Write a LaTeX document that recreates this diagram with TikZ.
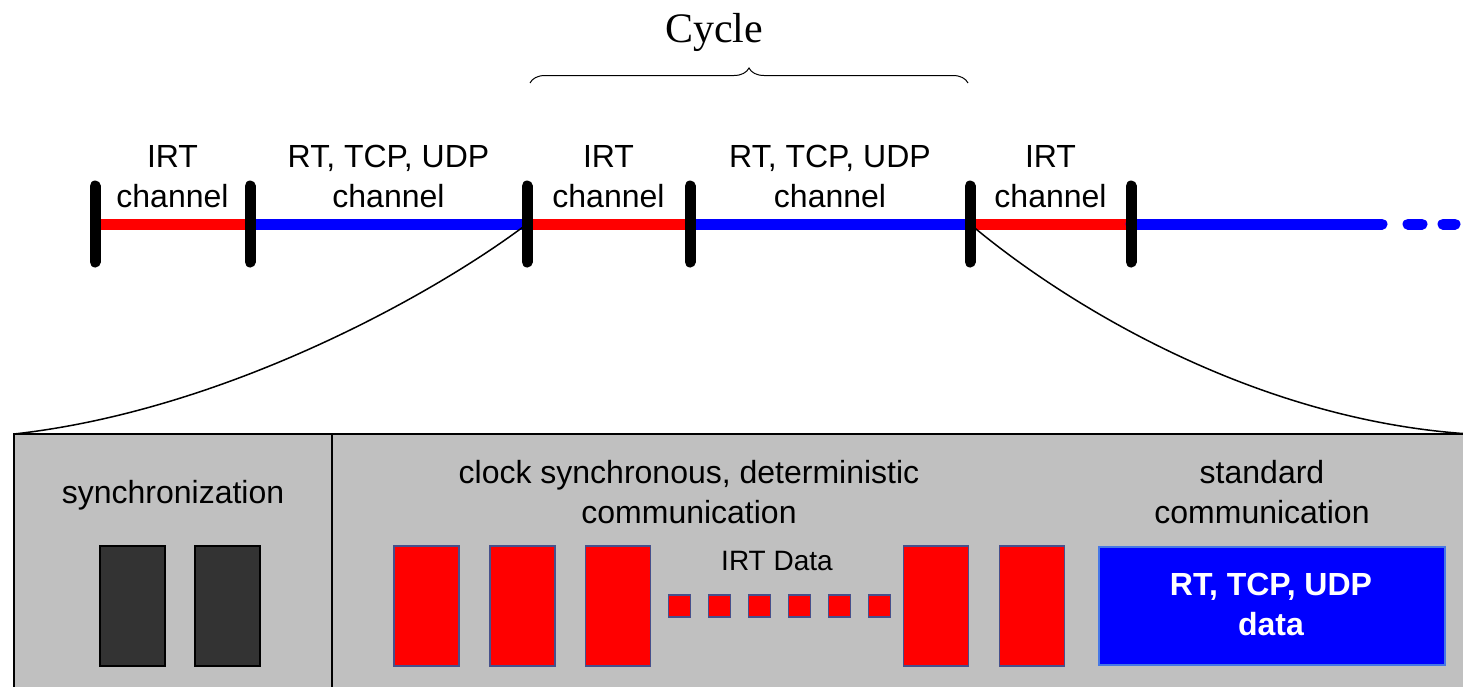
\documentclass[tikz,border=0pt]{standalone}
\usepackage{fontspec}
\setmainfont{Liberation Sans}
\newfontfamily\cyclefont{Liberation Serif}
\usepackage{tikz}
\usetikzlibrary{decorations.pathreplacing,positioning}
\definecolor{irtred}{RGB}{255,0,0}
\definecolor{rtblue}{RGB}{0,0,255}
\definecolor{panelgray}{RGB}{192,192,192}
\definecolor{syncgray}{RGB}{51,51,51}
\definecolor{frameslate}{RGB}{70,80,140}
\definecolor{frameblue}{RGB}{70,120,230}

\tikzset{
  chan/.style={line width=5.5pt},
  tick/.style={line width=5.5pt, line cap=round},
  lbl/.style={font=\fontsize{16}{20}\selectfont, align=center, inner sep=0pt, anchor=base},
  syncbox/.style={fill=syncgray, draw=black, line width=0.75pt, minimum width=32.5pt, minimum height=60pt, inner sep=0pt},
  irtbox/.style={fill=irtred, draw=frameslate, line width=0.75pt, minimum width=32.5pt, minimum height=60pt, inner sep=0pt},
  irtdot/.style={fill=irtred, draw=frameslate, line width=0.75pt, minimum size=11pt, inner sep=0pt},
}

\begin{document}
\begin{tikzpicture}[x=0.5pt,y=-0.5pt]
    \clip (0,0) rectangle (1463,686);

    % Tick positions on the time line
    \foreach \n/\x in {1/95,2/250,3/527,4/690,5/970,6/1131}
        \coordinate (t\n) at (\x,224);
    \coordinate (tEnd) at (1382,224);

    % Cycle brace
    \coordinate (cycL) at (530,83);
    \coordinate (cycR) at (968,83);
    \draw[line width=0.5pt, decorate, decoration={brace, amplitude=7.5pt}] (cycL) -- (cycR);
    \node[anchor=base, inner sep=0pt, font=\cyclefont\fontsize{21}{25}\selectfont] (cycle) at (714,42) {Cycle};

    % Channels
    \draw[chan, irtred] (t1) -- (t2);
    \draw[chan, rtblue] (t2) -- (t3);
    \draw[chan, irtred] (t3) -- (t4);
    \draw[chan, rtblue] (t4) -- (t5);
    \draw[chan, irtred] (t5) -- (t6);
    \draw[chan, rtblue, line cap=round] (t6) -- (tEnd);
    \draw[chan, rtblue, line cap=round] (1408,224) -- (1422,224) (1443,224) -- (1455,224);

    % Ticks
    \foreach \n in {1,...,6}
        \draw[tick] ([yshift=19pt]t\n) -- ([yshift=-19pt]t\n);

    % Channel labels (base = last line)
    \node[lbl] (irt1) at (172.5,207) {IRT\\channel};
    \node[lbl] (rt1) at (388.5,207) {RT, TCP, UDP\\channel};
    \node[lbl] (irt2) at (608.5,207) {IRT\\channel};
    \node[lbl] (rt2) at (830,207) {RT, TCP, UDP\\channel};
    \node[lbl] (irt3) at (1050.5,207) {IRT\\channel};

    % Lower panel
    \coordinate (panelNW) at (14,434);
    \coordinate (panelNE) at (1470,434);
    \fill[panelgray] (panelNW) rectangle (1480,700);
    \draw[line width=1pt] (1480,434) -- (panelNW) -- (14,700);
    \draw[line width=0.75pt] (332,434) -- (332,700);

    % Zoom lines
    \draw[line width=0.75pt] (t3) .. controls (440,290) and (230,410) .. (panelNW);
    \draw[line width=0.75pt] (t5) .. controls (1060,300) and (1250,420) .. (panelNE);

    % Synchronization
    \node[lbl] (sync) at (173,503) {synchronization};
    \node[syncbox] (s1) at (132.5,606) {};
    \node[syncbox] (s2) at (227.5,606) {};

    % Clock synchronous IRT data
    \node[lbl] (clocksync) at (689,523) {clock synchronous, deterministic\\communication};
    \foreach \n/\x in {1/426.5,2/522.5,3/618,4/936,5/1032}
        \node[irtbox] (d\n) at (\x,606) {};
    \foreach \i in {0,...,5}
        \node[irtdot] (p\i) at (679.5+40*\i,606) {};
    \node[lbl, font=\fontsize{14}{17}\selectfont] (irtdata) at (777,570) {IRT Data};

    % Standard communication
    \node[lbl] (standard) at (1262,523) {standard\\communication};
    \node[fill=rtblue, draw=frameblue, line width=0.75pt, minimum width=173pt, minimum height=59pt, inner sep=0pt] (rtdata) at (1272,606) {};
    \node[lbl, text=white, font=\bfseries\fontsize{16}{20}\selectfont] (rtdatatxt) at (1271,635) {RT, TCP, UDP\\data};
\end{tikzpicture}
\end{document}
